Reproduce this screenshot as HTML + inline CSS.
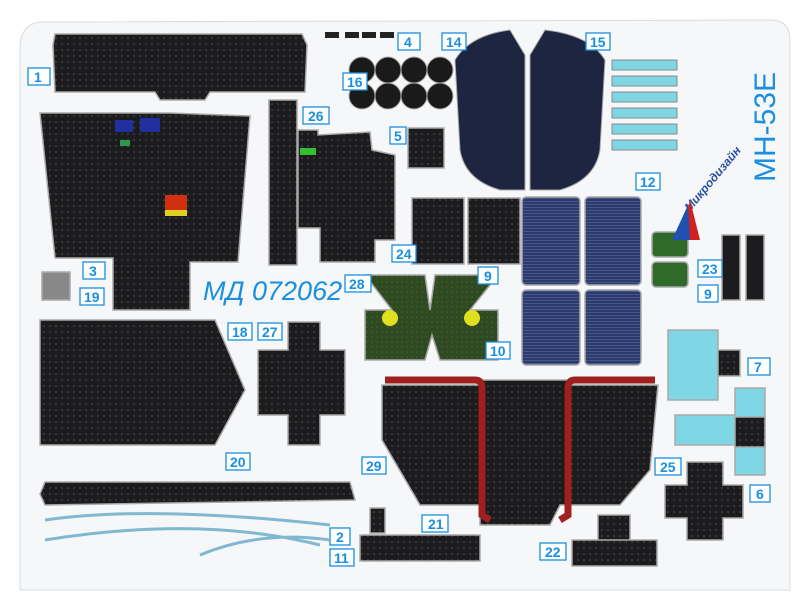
<!DOCTYPE html>
<html><head><meta charset="utf-8"><style>
html,body{margin:0;padding:0;background:#fff;}
svg{display:block}
.l{font-family:"Liberation Sans",sans-serif;font-size:14px;font-weight:bold;fill:#1a8fe0}
</style></head><body>
<svg width="800" height="595" viewBox="0 0 800 595" xmlns="http://www.w3.org/2000/svg">
<defs>
<pattern id="dots" width="6" height="6" patternUnits="userSpaceOnUse"><rect width="6" height="6" fill="#1c1c1e"/><circle cx="2" cy="2" r="0.8" fill="#555"/></pattern>
<pattern id="blu" width="3" height="3" patternUnits="userSpaceOnUse"><rect width="3" height="3" fill="#2c3a6e"/><rect width="3" height="1" fill="#46558a"/></pattern>
<pattern id="gr" width="5" height="5" patternUnits="userSpaceOnUse"><rect width="5" height="5" fill="#2f4a22"/><circle cx="2" cy="2" r="0.8" fill="#45642f"/></pattern>
</defs>
<rect width="800" height="595" fill="#fff"/>
<path d="M40 22 Q22 24 20 45 L20 590 L790 590 L790 40 Q790 20 770 20 Z" fill="#f6f7f8" stroke="#d8dcdf"/>
<g stroke="#aaa" stroke-width="1.5">
<path d="M55 34 L302 34 L307 45 L305 92 L210 92 L205 100 L160 100 L155 92 L55 92 L53 45 Z" fill="url(#dots)"/>
<path d="M40 113 L170 113 L250 116 L238 262 L190 262 L190 310 L113 310 L113 258 L55 258 Z" fill="url(#dots)"/>
<rect x="269" y="100" width="28" height="165" fill="url(#dots)"/>
<path d="M298 130 L318 130 L318 135 L370 132 L372 150 L395 155 L395 240 L375 240 L375 262 L320 262 L320 228 L298 228 Z" fill="url(#dots)"/>
<rect x="408" y="128" width="36" height="40" fill="url(#dots)"/>
<rect x="412" y="198" width="52" height="66" fill="url(#dots)"/>
<rect x="468" y="198" width="52" height="66" fill="url(#dots)"/>
<rect x="522" y="197" width="58" height="88" rx="4" fill="url(#blu)"/>
<rect x="585" y="197" width="56" height="88" rx="4" fill="url(#blu)"/>
<rect x="522" y="290" width="58" height="75" rx="4" fill="url(#blu)"/>
<rect x="585" y="290" width="56" height="75" rx="4" fill="url(#blu)"/>
<path d="M365 275 L425 275 L430 310 L435 275 L498 275 L470 310 L498 310 L498 360 L440 360 L432 335 L425 360 L365 360 L365 310 L392 310 Z" fill="url(#gr)"/>
<path d="M40 320 L215 320 L245 390 L215 445 L40 445 Z" fill="url(#dots)"/>
<path d="M288 322 L320 322 L320 350 L345 350 L345 415 L320 415 L320 445 L288 445 L288 415 L258 415 L258 350 L288 350 Z" fill="url(#dots)"/>
<path d="M382 385 L480 385 L480 380 L570 380 L570 385 L658 385 L650 470 L620 505 L560 505 L550 525 L480 525 L480 505 L420 505 L382 440 Z" fill="url(#dots)"/>
<rect x="668" y="330" width="50" height="70" fill="#7fd6e4"/>
<rect x="718" y="350" width="22" height="26" fill="url(#dots)"/>
<path d="M735 388 L765 388 L765 475 L735 475 L735 445 L675 445 L675 415 L735 415 Z" fill="#7fd6e4"/>
<rect x="735" y="417" width="30" height="30" fill="url(#dots)"/>
<path d="M687 462 L723 462 L723 485 L743 485 L743 518 L723 518 L723 540 L687 540 L687 518 L665 518 L665 485 L687 485 Z" fill="url(#dots)"/>
<path d="M45 482 L350 482 L355 500 L45 505 L40 494 Z" fill="url(#dots)"/>
<rect x="370" y="508" width="15" height="25" fill="url(#dots)"/>
<rect x="360" y="535" width="120" height="26" fill="url(#dots)"/>
<rect x="598" y="515" width="32" height="30" fill="url(#dots)"/>
<rect x="572" y="540" width="85" height="26" fill="url(#dots)"/>
<rect x="722" y="235" width="18" height="65" fill="#1c1c1e"/>
<rect x="746" y="235" width="18" height="65" fill="#1c1c1e"/>
<rect x="652" y="232" width="36" height="25" rx="4" fill="#2f6a2a"/>
<rect x="652" y="262" width="36" height="25" rx="4" fill="#2f6a2a"/>
<rect x="42" y="272" width="28" height="28" fill="#888"/>
</g>
<path d="M455 60 Q470 35 510 30 L525 55 L525 190 L500 190 Q465 180 460 150 Z" fill="#1d2540" stroke="#aaa"/>
<path d="M530 55 L545 30 Q590 35 605 60 L600 150 Q595 180 560 190 L530 190 Z" fill="#1d2540" stroke="#aaa"/>
<g fill="#1a1a1a" stroke="#aaa">
<circle cx="362" cy="70" r="13"/><circle cx="388" cy="70" r="13"/><circle cx="414" cy="70" r="13"/><circle cx="440" cy="70" r="13"/>
<circle cx="362" cy="96" r="13"/><circle cx="388" cy="96" r="13"/><circle cx="414" cy="96" r="13"/><circle cx="440" cy="96" r="13"/>
</g>
<g fill="#222"><rect x="325" y="32" width="14" height="6"/><rect x="345" y="32" width="14" height="6"/><rect x="362" y="32" width="14" height="6"/><rect x="380" y="32" width="14" height="6"/></g>
<g fill="#7fd6e4" stroke="#888"><rect x="612" y="60" width="65" height="10"/><rect x="612" y="76" width="65" height="10"/><rect x="612" y="92" width="65" height="10"/><rect x="612" y="108" width="65" height="10"/><rect x="612" y="124" width="65" height="10"/><rect x="612" y="140" width="65" height="10"/></g>
<path d="M385 380 L475 380 Q482 380 482 388 L482 515 L490 520" fill="none" stroke="#a02020" stroke-width="7"/>
<path d="M655 380 L575 380 Q568 380 568 388 L568 515 L560 520" fill="none" stroke="#a02020" stroke-width="7"/>
<rect x="115" y="120" width="18" height="12" fill="#2030a0"/><rect x="140" y="118" width="20" height="14" fill="#2030a0"/><rect x="120" y="140" width="10" height="6" fill="#2a9a4a"/>
<rect x="165" y="195" width="22" height="20" fill="#d03010"/><rect x="165" y="210" width="22" height="6" fill="#e0d020"/>
<rect x="300" y="148" width="16" height="7" fill="#30c030"/>
<circle cx="390" cy="318" r="8" fill="#e0e020"/><circle cx="472" cy="318" r="8" fill="#e0e020"/>
<text x="0" y="0" transform="translate(775,182) rotate(-90)" font-family="Liberation Sans,sans-serif" font-size="30" fill="#1a8fe0">MH-53E</text>
<text x="0" y="0" transform="translate(690,212) rotate(-50)" font-family="Liberation Sans,sans-serif" font-size="12" font-weight="bold" font-style="italic" fill="#2850a0">Микродизайн</text>
<path d="M680 240 L690 200 L700 240 Z" fill="#d02020"/><path d="M672 240 L688 205 L690 240 Z" fill="#2050b0"/>
<text x="203" y="300" font-family="Liberation Sans,sans-serif" font-size="27" font-style="italic" fill="#1a8fe0">МД 072062</text>
<g class="l" fill="none">
<g stroke="#1a8fe0" stroke-width="1.3" fill="#fff">
<rect x="28" y="68" width="22" height="17"/><rect x="398" y="33" width="22" height="17"/><rect x="442" y="33" width="24" height="17"/><rect x="586" y="33" width="24" height="17"/>
<rect x="343" y="73" width="24" height="17"/><rect x="303" y="107" width="26" height="17"/><rect x="390" y="127" width="16" height="17"/><rect x="636" y="173" width="24" height="17"/>
<rect x="392" y="245" width="24" height="17"/><rect x="478" y="267" width="20" height="17"/><rect x="698" y="260" width="24" height="17"/><rect x="698" y="285" width="20" height="17"/>
<rect x="83" y="262" width="22" height="17"/><rect x="80" y="288" width="24" height="17"/><rect x="345" y="275" width="26" height="17"/><rect x="228" y="323" width="24" height="17"/>
<rect x="258" y="323" width="24" height="17"/><rect x="486" y="342" width="24" height="17"/><rect x="748" y="358" width="22" height="17"/><rect x="226" y="453" width="24" height="17"/>
<rect x="362" y="457" width="24" height="17"/><rect x="655" y="458" width="26" height="17"/><rect x="750" y="485" width="20" height="17"/><rect x="330" y="528" width="20" height="17"/>
<rect x="330" y="549" width="24" height="17"/><rect x="422" y="515" width="26" height="17"/><rect x="540" y="543" width="26" height="17"/>
</g>
<g fill="#1a8fe0" stroke="none">
<text x="34" y="82">1</text><text x="404" y="47">4</text><text x="446" y="47">14</text><text x="590" y="47">15</text>
<text x="347" y="87">16</text><text x="308" y="121">26</text><text x="394" y="141">5</text><text x="640" y="187">12</text>
<text x="396" y="259">24</text><text x="484" y="281">9</text><text x="702" y="274">23</text><text x="704" y="299">9</text>
<text x="89" y="276">3</text><text x="84" y="302">19</text><text x="349" y="289">28</text><text x="232" y="337">18</text>
<text x="262" y="337">27</text><text x="490" y="356">10</text><text x="754" y="372">7</text><text x="230" y="467">20</text>
<text x="366" y="471">29</text><text x="660" y="472">25</text><text x="756" y="499">6</text><text x="336" y="542">2</text>
<text x="334" y="563">11</text><text x="428" y="529">21</text><text x="545" y="557">22</text>
</g></g>
<path d="M45 520 Q150 505 330 525 M45 540 Q200 515 320 545 M200 555 Q260 530 330 540" fill="none" stroke="#7fb8d0" stroke-width="3"/>
</svg>
</body></html>
